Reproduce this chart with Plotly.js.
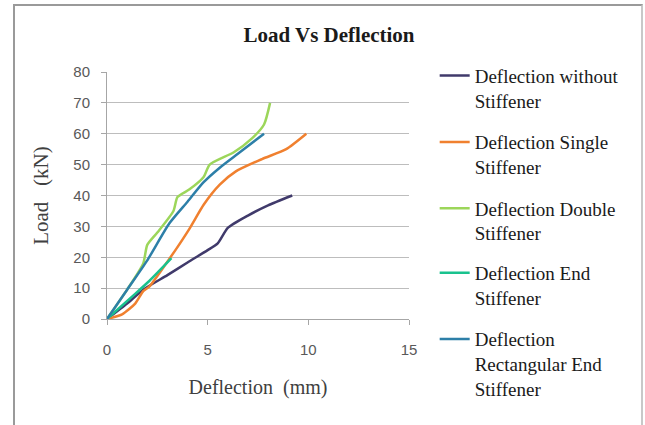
<!DOCTYPE html>
<html>
<head>
<meta charset="utf-8">
<script src="https://cdn.plot.ly/plotly-3.0.1.min.js"></script>
<style>
html,body{margin:0;padding:0;background:#fff;}
#wrap{position:relative;width:645px;height:425px;}
#chart{position:absolute;left:0;top:0;width:645px;height:425px;}
#frame{position:absolute;left:13px;top:4px;width:626px;height:430px;border-top:2px solid #9a9a9a;border-left:2px solid #9a9a9a;border-right:2px solid #c8c8c8;pointer-events:none;}
</style>
</head>
<body>
<div id="wrap"><div id="chart"></div><div id="frame"></div></div>
<script>
const seriesNames = [
  "Deflection without<br>Stiffener",
  "Deflection Single<br>Stiffener",
  "Deflection Double<br>Stiffener",
  "Deflection End<br>Stiffener",
  "Deflection<br>Rectangular End<br>Stiffener"
];
const withoutX = [0, 1, 1.8, 3, 4, 5, 5.5, 6, 7, 8, 9.2];
const withoutY = [0, 5, 9.5, 14.2, 18.3, 22.3, 24.5, 29.5, 33.5, 36.8, 40];
const singleX = [0, 0.75, 1.4, 1.8, 2.1, 3.1, 4.1, 4.8, 5.6, 6.4, 7.7, 8.9, 9.9];
const singleY = [0, 1.5, 5, 9, 10.5, 19.5, 29.3, 37, 43.5, 47.8, 51.8, 55, 60];
const doubleX = [0, 1, 1.8, 2, 2.5, 3.3, 3.5, 4.1, 4.8, 5.1, 6.3, 7.2, 7.8, 8.1];
const doubleY = [0, 9.5, 18, 24, 28, 35, 39.5, 42, 46, 50, 54, 58.5, 63, 70];
const endX = [0, 1.2, 2.1, 3.2];
const endY = [0, 7, 12.3, 19.7];
const rectX = [0, 1, 2, 3.1, 4, 4.8, 5.6, 6.5, 7.8];
const rectY = [0, 9.5, 19, 31, 38, 44.3, 49, 53.5, 60];
const colors = ["#403a6b", "#f0802f", "#9cd65a", "#19c28e", "#2d7fa8"];
const xTicks = [0, 5, 10, 15];
const yTicks = [0, 10, 20, 30, 40, 50, 60, 70, 80];

const xs = [withoutX, singleX, doubleX, endX, rectX];
const ys = [withoutY, singleY, doubleY, endY, rectY];
const traces = xs.map((x, i) => ({
  x: x, y: ys[i], type: "scatter", mode: "lines",
  name: seriesNames[i], legendgroup: "g" + i,
  legend: i < 3 ? "legend" : "legend2",
  line: {color: colors[i], width: 2.5, shape: "spline", smoothing: 0.6}
}));

const serif = "Liberation Serif, Times New Roman, serif";
const sans = "Liberation Sans, Arial, sans-serif";
const legFont = {family: serif, size: 19, color: "#1a1a1a"};
const layout = {
  width: 645, height: 425,
  margin: {l: 107, r: 236, t: 72, b: 106, pad: 0},
  paper_bgcolor: "#ffffff", plot_bgcolor: "#ffffff",
  title: {text: "<b>Load Vs Deflection</b>", font: {family: serif, size: 21, color: "#1a1a1a"},
          x: 329/645, xanchor: "center", y: 1 - 35/425, yanchor: "middle"},
  xaxis: {range: [0, 15], tickvals: xTicks, ticktext: xTicks.map(String),
          showgrid: false, zeroline: false, showline: true, linecolor: "#a6a6a6", linewidth: 1,
          ticks: "outside", ticklen: 5, tickcolor: "#a6a6a6", ticklabelstandoff: 12,
          tickfont: {family: sans, size: 15, color: "#595959"},
          title: {text: "Deflection  (mm)", font: {family: serif, size: 20, color: "#404040"}, standoff: 22}},
  yaxis: {range: [0, 80], tickvals: yTicks, ticktext: yTicks.map(String),
          showgrid: true, gridcolor: "#bdbdbd", gridwidth: 1, zeroline: false,
          showline: true, linecolor: "#a6a6a6", linewidth: 1,
          ticks: "outside", ticklen: 5, tickcolor: "#a6a6a6", ticklabelstandoff: 8,
          tickfont: {family: sans, size: 15, color: "#595959"},
          title: {text: "Load   (kN)", font: {family: serif, size: 21, color: "#404040"}, standoff: 18}},
  showlegend: true,
  legend: {x: 1.085, xanchor: "left", y: 1.062, yanchor: "top", font: legFont,
           traceorder: "grouped", tracegroupgap: 14, valign: "top",
           bgcolor: "rgba(0,0,0,0)", itemwidth: 30},
  legend2: {x: 1.085, xanchor: "left", y: 0.264, yanchor: "top", font: legFont,
           traceorder: "grouped", tracegroupgap: 14, valign: "top",
           bgcolor: "rgba(0,0,0,0)", itemwidth: 30}
};
Plotly.newPlot("chart", traces, layout, {displayModeBar: false, staticPlot: true});
</script>
</body>
</html>
